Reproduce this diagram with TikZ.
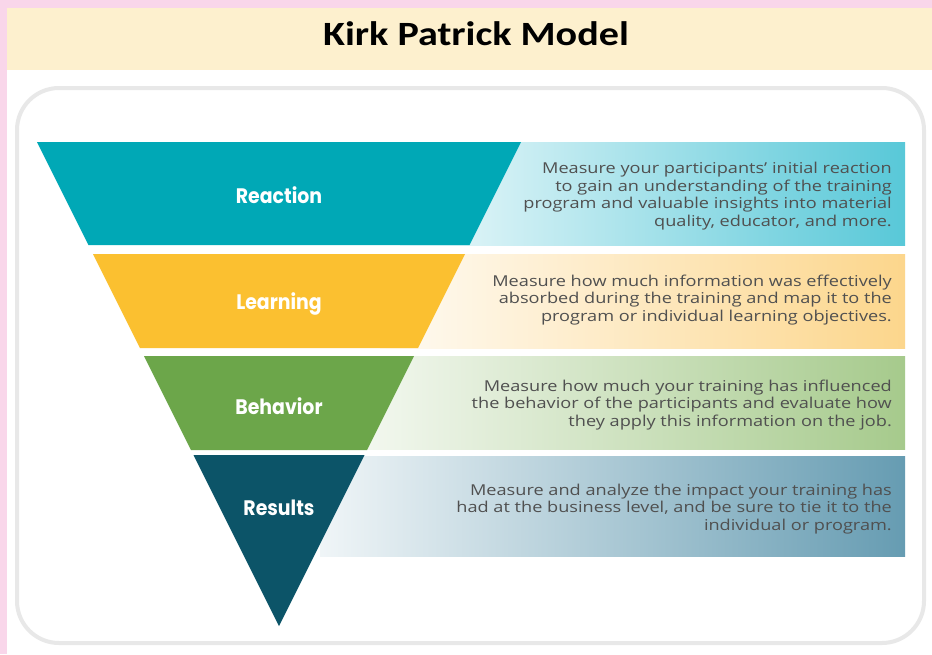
\documentclass[tikz,border=0pt]{standalone}
\usepackage{fontspec}
\usepackage{xcolor}
\usepackage{tikz}

\newfontfamily\titlefont{Carlito}[FakeStretch=1.18]
\newfontfamily\levelfont{Poppins}[FakeStretch=0.9]
\newfontfamily\descfont{Open Sans}[FakeStretch=1.21]

\definecolor{pinkedge}{RGB}{249,214,234}
\definecolor{headercream}{RGB}{253,240,206}
\definecolor{framegray}{RGB}{232,232,232}
\definecolor{descgray}{RGB}{80,80,80}
\definecolor{reactcol}{RGB}{0,168,182}
\definecolor{learncol}{RGB}{251,192,48}
\definecolor{behavecol}{RGB}{108,166,74}
\definecolor{resultcol}{RGB}{12,84,104}
\definecolor{reactband}{RGB}{88,200,216}
\definecolor{learnband}{RGB}{252,214,140}
\definecolor{behaveband}{RGB}{166,202,140}
\definecolor{resultband}{RGB}{102,156,178}

\begin{document}
\begin{tikzpicture}[x=1pt, y=-1pt,
    leveltext/.style={anchor=base, text=white, font=\levelfont\bfseries\fontsize{21}{24}\selectfont},
    desctext/.style={anchor=east, align=right, text=descgray, inner sep=0pt,
      font=\descfont\fontsize{15}{17.5}\selectfont}]
  \useasboundingbox (0,0) rectangle (932,654);
  \fill[white] (0,0) rectangle (932,654);

  % page edge and header
  \fill[pinkedge] (0,0) rectangle (932,8);
  \fill[pinkedge] (0,0) rectangle (7,654);
  \fill[headercream] (7,8) rectangle (932,70);
  \node[anchor=base, font=\titlefont\bfseries\fontsize{34}{38}\selectfont] (title) at (476,45) {Kirk Patrick Model};

  % frame
  \draw[framegray, line width=4, rounded corners=42] (17,88) rectangle (924,643);

  % description bands
  \foreach \ytop/\ybot/\xl/\col in {142/245/400/reactband, 254/348/380/learnband, 356/449/340/behaveband, 456/556/320/resultband} {
    \shade[left color=\col!10, right color=\col] (\xl,\ytop) rectangle (905,\ybot);
  }

  % funnel levels
  \foreach \ytop/\ybot/\col in {142/245/reactcol, 254/348/learncol, 356/450/behavecol, 455/626/resultcol} {
    \fill[\col] ({279-0.5*(626-\ytop)},\ytop) -- ({279+0.5*(626-\ytop)},\ytop)
      -- ({279+0.5*(626-\ybot)},\ybot) -- ({279-0.5*(626-\ybot)},\ybot) -- cycle;
  }

  \node[leveltext] (reaction) at (279,203) {Reaction};
  \node[leveltext] (learning) at (279,309) {Learning};
  \node[leveltext] (behavior) at (279,414) {Behavior};
  \node[leveltext] (results) at (279,515) {Results};

  \node[desctext] (reactdesc) at (892,196) {Measure your participants’ initial reaction\\
    to gain an understanding of the training\\
    program and valuable insights into material\\
    quality, educator, and more.};
  \node[desctext] (learndesc) at (892,300) {Measure how much information was effectively\\
    absorbed during the training and map it to the\\
    program or individual learning objectives.};
  \node[desctext] (behavedesc) at (892,405) {Measure how much your training has influenced\\
    the behavior of the participants and evaluate how\\
    they apply this information on the job.};
  \node[desctext] (resultdesc) at (892,509) {Measure and analyze the impact your training has\\
    had at the business level, and be sure to tie it to the\\
    individual or program.};
\end{tikzpicture}
\end{document}
